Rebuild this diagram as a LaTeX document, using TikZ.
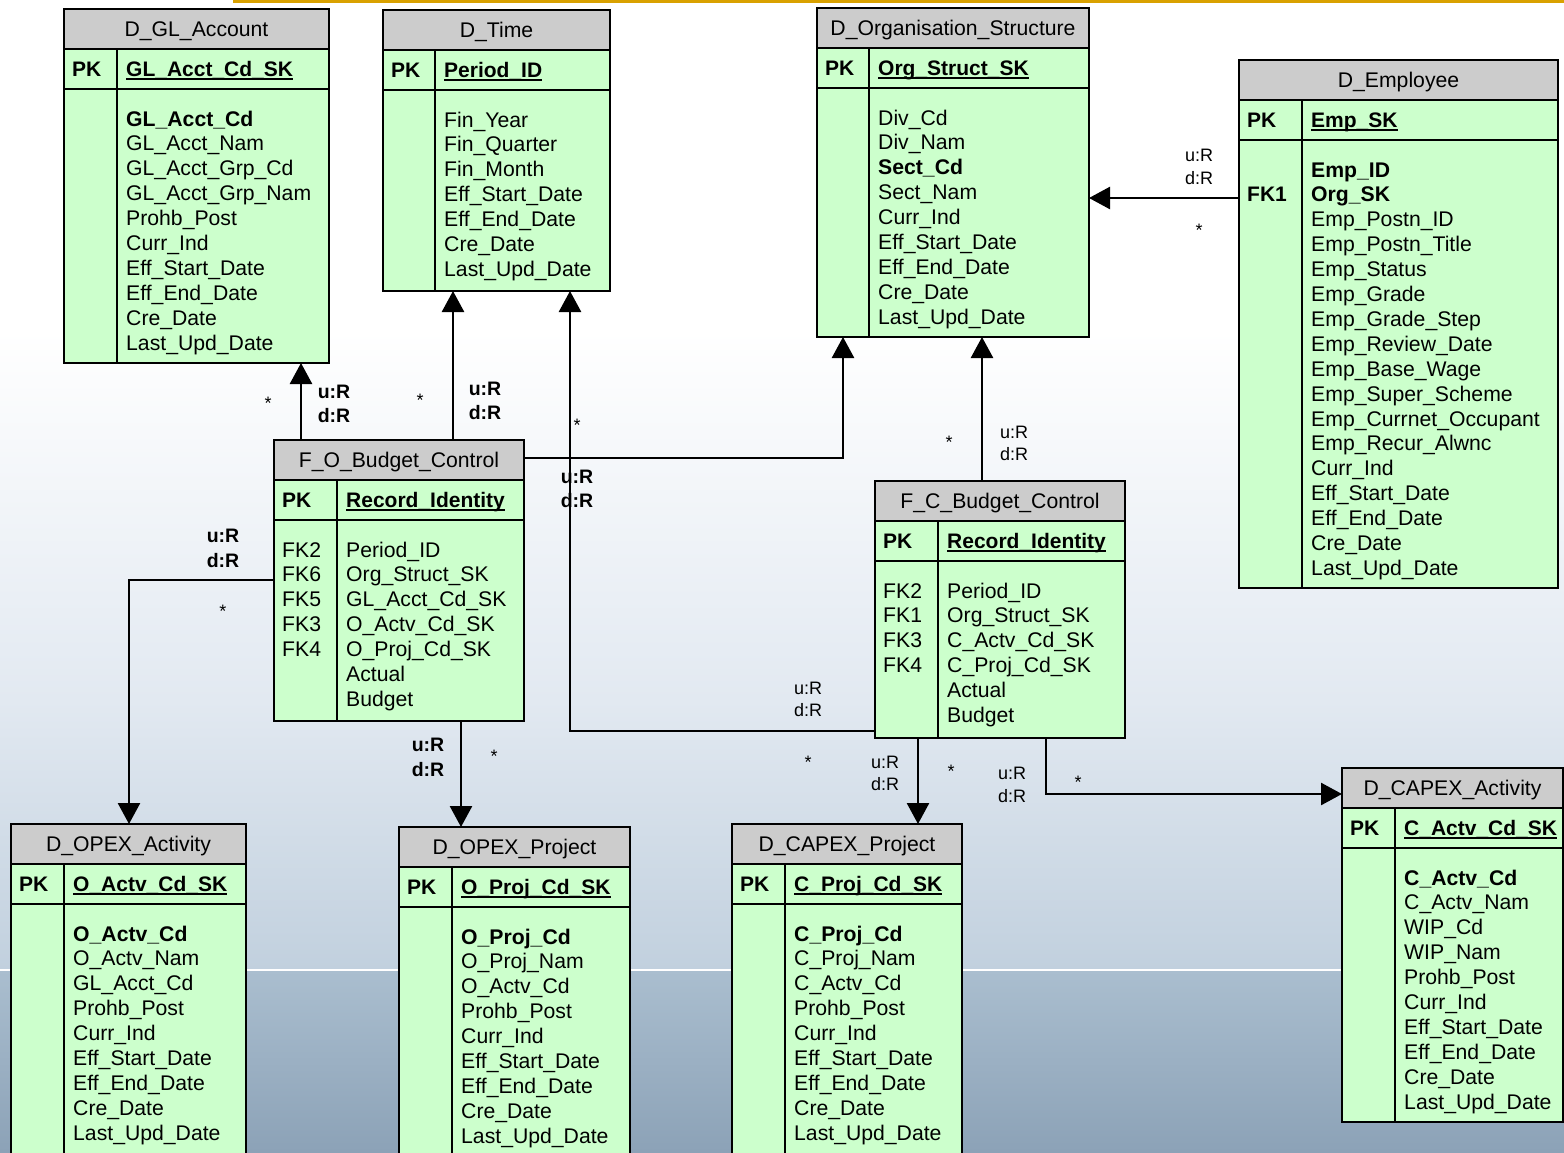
\documentclass[tikz,border=0pt]{standalone}
\usepackage{fontspec}
\setmainfont{Liberation Sans}
\usetikzlibrary{arrows.meta,calc}
\definecolor{hdr}{HTML}{CCCCCC}
\definecolor{bodyg}{HTML}{CCFFCC}
\definecolor{orangeline}{HTML}{D9A100}
\tikzset{
 tline/.style={line width=1.7pt, draw=black},
 tbox/.style={draw=black, line width=1.9pt, inner sep=0pt, outer sep=0pt},
 ttl/.style={inner sep=0pt, anchor=base, font=\fontsize{21.2}{24}\selectfont},
 pkl/.style={inner sep=0pt, anchor=base west, font=\fontsize{21}{24}\selectfont\bfseries},
 fld/.style={inner sep=0pt, anchor=base west, font=\fontsize{21.2}{24}\selectfont},
 conn/.style={line width=2.6pt, draw=black},
 arr/.style={conn, -{Triangle[length=21pt,width=22pt]}},
 lb/.style={inner sep=0pt, font=\fontsize{19.5}{22}\selectfont\bfseries},
 ln/.style={inner sep=0pt, font=\fontsize{18}{20}\selectfont},
 st/.style={inner sep=0pt, font=\fontsize{18}{20}\selectfont},
}
\newcommand\ulx[1]{\setbox0\hbox{#1}\rlap{\rule[-3.6pt]{\wd0}{1.9pt}}\box0}
\newcommand\tframe[7]{%
  \fill[hdr] (#2,#3) rectangle (#4,#3+40);
  \fill[bodyg] (#2,#3+40) rectangle (#4,#5);
  \draw[tline] (#2,#3+40) -- (#4,#3+40) (#2,#3+80) -- (#4,#3+80) (#2+#6,#3+40) -- (#2+#6,#5);
  \node[tbox, minimum width={#4-#2}, minimum height={#5-#3}, anchor=north west] (#1) at (#2,#3) {};
  \node[ttl] (#1-t) at ({(#2+#4)/2},#3+27) {#7};
  \node[pkl] (#1-pk) at (#2+8,#3+67) {PK};
}
\newcommand\tpk[4]{\node[pkl] (#1-pkf) at (#2,#3+67) {\ulx{#4}};}
\newcommand\tfields[4]{\foreach \t [count=\i from 0] in {#4} {\node[fld] (#1-f\i) at (#2,{#3+117+\i*24.9}) {\t};}}
\begin{document}
\begin{tikzpicture}[x=1pt,y=-1pt]
\useasboundingbox (0,0) rectangle (1564,1152);
\clip (0,0) rectangle (1564,1152);
% background
\fill[white] (0,0) rectangle (1564,330);
\shade[top color=white, bottom color={rgb,255:red,226;green,233;blue,241}] (0,330) rectangle (1564,700);
\shade[top color={rgb,255:red,226;green,233;blue,241}, bottom color={rgb,255:red,193;green,208;blue,222}] (0,700) rectangle (1564,970);
\shade[top color={rgb,255:red,170;green,190;blue,207}, bottom color={rgb,255:red,140;green,162;blue,183}] (0,970) rectangle (1564,1152);
\draw[white, line width=1.2pt] (0,970) -- (1564,970);
\fill[orangeline] (233,0) rectangle (1564,2.5);

% D_GL_Account
\tframe{glacc}{64}{9}{329}{363}{53}{D\_GL\_Account}
\tpk{glacc}{126}{9}{GL\_Acct\_Cd\_SK}
\tfields{glacc}{126}{9}{\textbf{GL\_Acct\_Cd},GL\_Acct\_Nam,GL\_Acct\_Grp\_Cd,GL\_Acct\_Grp\_Nam,Prohb\_Post,Curr\_Ind,Eff\_Start\_Date,Eff\_End\_Date,Cre\_Date,Last\_Upd\_Date}

% D_Time
\tframe{dtime}{383}{10}{610}{291}{52}{D\_Time}
\tpk{dtime}{444}{10}{Period\_ID}
\tfields{dtime}{444}{10}{Fin\_Year,Fin\_Quarter,Fin\_Month,Eff\_Start\_Date,Eff\_End\_Date,Cre\_Date,Last\_Upd\_Date}

% D_Organisation_Structure
\tframe{dorg}{817}{8}{1089}{337}{52}{D\_Organisation\_Structure}
\tpk{dorg}{878}{8}{Org\_Struct\_SK}
\tfields{dorg}{878}{8}{Div\_Cd,Div\_Nam,\textbf{Sect\_Cd},Sect\_Nam,Curr\_Ind,Eff\_Start\_Date,Eff\_End\_Date,Cre\_Date,Last\_Upd\_Date}

% D_Employee
\tframe{demp}{1239}{60}{1558}{588}{63}{D\_Employee}
\tpk{demp}{1311}{60}{Emp\_SK}
\tfields{demp}{1311}{60}{\textbf{Emp\_ID},\textbf{Org\_SK},Emp\_Postn\_ID,Emp\_Postn\_Title,Emp\_Status,Emp\_Grade,Emp\_Grade\_Step,Emp\_Review\_Date,Emp\_Base\_Wage,Emp\_Super\_Scheme,Emp\_Currnet\_Occupant,Emp\_Recur\_Alwnc,Curr\_Ind,Eff\_Start\_Date,Eff\_End\_Date,Cre\_Date,Last\_Upd\_Date}
\node[pkl] (demp-fk) at (1247,{60+117+24.9}) {FK1};

% F_O_Budget_Control
\tframe{fo}{274}{440}{524}{721}{63}{F\_O\_Budget\_Control}
\tpk{fo}{346}{440}{Record\_Identity}
\tfields{fo}{346}{440}{Period\_ID,Org\_Struct\_SK,GL\_Acct\_Cd\_SK,O\_Actv\_Cd\_SK,O\_Proj\_Cd\_SK,Actual,Budget}
\tfields{fok}{282}{440}{FK2,FK6,FK5,FK3,FK4}

% F_C_Budget_Control
\tframe{fc}{875}{481}{1125}{738}{63}{F\_C\_Budget\_Control}
\tpk{fc}{947}{481}{Record\_Identity}
\tfields{fc}{947}{481}{Period\_ID,Org\_Struct\_SK,C\_Actv\_Cd\_SK,C\_Proj\_Cd\_SK,Actual,Budget}
\tfields{fck}{883}{481}{FK2,FK1,FK3,FK4}

% D_OPEX_Activity
\tframe{dopa}{11}{824}{246}{1165}{53}{D\_OPEX\_Activity}
\tpk{dopa}{73}{824}{O\_Actv\_Cd\_SK}
\tfields{dopa}{73}{824}{\textbf{O\_Actv\_Cd},O\_Actv\_Nam,GL\_Acct\_Cd,Prohb\_Post,Curr\_Ind,Eff\_Start\_Date,Eff\_End\_Date,Cre\_Date,Last\_Upd\_Date}

% D_OPEX_Project
\tframe{dopp}{399}{827}{630}{1165}{53}{D\_OPEX\_Project}
\tpk{dopp}{461}{827}{O\_Proj\_Cd\_SK}
\tfields{dopp}{461}{827}{\textbf{O\_Proj\_Cd},O\_Proj\_Nam,O\_Actv\_Cd,Prohb\_Post,Curr\_Ind,Eff\_Start\_Date,Eff\_End\_Date,Cre\_Date,Last\_Upd\_Date}

% D_CAPEX_Project
\tframe{dcpp}{732}{824}{962}{1165}{53}{D\_CAPEX\_Project}
\tpk{dcpp}{794}{824}{C\_Proj\_Cd\_SK}
\tfields{dcpp}{794}{824}{\textbf{C\_Proj\_Cd},C\_Proj\_Nam,C\_Actv\_Cd,Prohb\_Post,Curr\_Ind,Eff\_Start\_Date,Eff\_End\_Date,Cre\_Date,Last\_Upd\_Date}

% D_CAPEX_Activity
\tframe{dcpa}{1342}{768}{1563}{1122}{53}{D\_CAPEX\_Activity}
\tpk{dcpa}{1404}{768}{C\_Actv\_Cd\_SK}
\tfields{dcpa}{1404}{768}{\textbf{C\_Actv\_Cd},C\_Actv\_Nam,WIP\_Cd,WIP\_Nam,Prohb\_Post,Curr\_Ind,Eff\_Start\_Date,Eff\_End\_Date,Cre\_Date,Last\_Upd\_Date}

% connectors
\coordinate (a1) at ([xshift=27pt]fo.north west);
\draw[arr] (a1) -- (a1 |- glacc.south);
\coordinate (a2) at ([xshift=179pt]fo.north west);
\draw[arr] (a2) -- (a2 |- dtime.south);
\coordinate (a3) at ([yshift=-18pt]fo.north east);
\coordinate (a3t) at ([xshift=26pt]dorg.south west);
\draw[arr] (a3) -| (a3t);
\coordinate (a4) at ([xshift=107pt]fc.north west);
\draw[arr] (a4) -- (a4 |- dorg.south);
\coordinate (a5) at ([yshift=7pt]fc.south west);
\coordinate (a5t) at ([xshift=187pt]dtime.south west);
\draw[arr] (a5) -| (a5t);
\coordinate (a6) at ([yshift=-140pt]fo.north west);
\coordinate (a6t) at ([xshift=118pt]dopa.north west);
\draw[arr] (a6) -| (a6t);
\coordinate (a7) at ([xshift=187pt]fo.south west);
\draw[arr] (a7) -- (a7 |- dopp.north);
\coordinate (a8) at ([xshift=43pt]fc.south west);
\draw[arr] (a8) -- (a8 |- dcpp.north);
\coordinate (a9) at ([xshift=171pt]fc.south west);
\coordinate (a9t) at ([yshift=-26pt]dcpa.north west);
\draw[arr] (a9) |- (a9t);
\coordinate (a10) at ([yshift=-138pt]demp.north west);
\draw[arr] (a10) -- (a10 -| dorg.east);

% labels
\node[st] (s1) at (268,403) {*};
\node[lb] (u1) at (334,392) {u:R};
\node[lb] (d1) at (334,416) {d:R};
\node[st] (s2) at (420,400) {*};
\node[lb] (u2) at (485,389) {u:R};
\node[lb] (d2) at (485,413) {d:R};
\node[st] (s3) at (577,425) {*};
\node[lb] (u3) at (577,477) {u:R};
\node[lb] (d3) at (577,501) {d:R};
\node[st] (s4) at (949,442) {*};
\node[ln] (u4) at (1014,432) {u:R};
\node[ln] (d4) at (1014,454) {d:R};
\node[ln] (u5) at (808,688) {u:R};
\node[ln] (d5) at (808,710) {d:R};
\node[st] (s5) at (808,762) {*};
\node[lb] (u6) at (223,536) {u:R};
\node[lb] (d6) at (223,561) {d:R};
\node[st] (s6) at (223,611) {*};
\node[lb] (u7) at (428,745) {u:R};
\node[lb] (d7) at (428,770) {d:R};
\node[st] (s7) at (494,756) {*};
\node[ln] (u8) at (885,762) {u:R};
\node[ln] (d8) at (885,784) {d:R};
\node[st] (s8) at (951,771) {*};
\node[ln] (u9) at (1012,773) {u:R};
\node[ln] (d9) at (1012,796) {d:R};
\node[st] (s9) at (1078,782) {*};
\node[ln] (u10) at (1199,155) {u:R};
\node[ln] (d10) at (1199,178) {d:R};
\node[st] (s10) at (1199,230) {*};
\end{tikzpicture}
\end{document}
